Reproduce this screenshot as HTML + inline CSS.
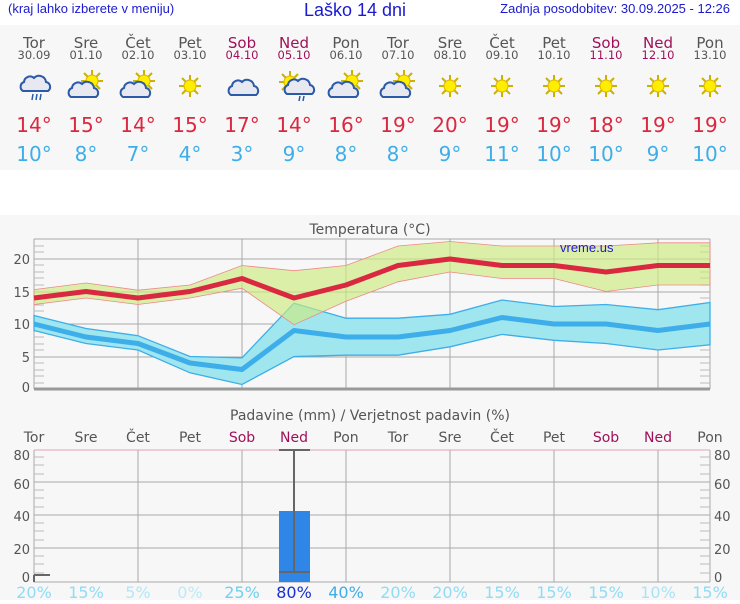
<!DOCTYPE html>
<html><head><meta charset="utf-8"><style>
body{margin:0;width:740px;height:600px;background:#fff;overflow:hidden;font-family:"DejaVu Sans","Liberation Sans",sans-serif}
</style></head><body>
<svg width="740" height="600" xmlns="http://www.w3.org/2000/svg" font-family="DejaVu Sans, Liberation Sans, sans-serif">
<defs>
<g id="sun"><g stroke="#c8b400" stroke-width="2"><line x1="-11" y1="0" x2="11" y2="0"/><line x1="0" y1="-11" x2="0" y2="11"/><line x1="-8" y1="-8" x2="8" y2="8"/><line x1="-8" y1="8" x2="8" y2="-8"/></g><circle r="6" fill="#ffee00" stroke="#e0b000"/></g>
<g id="cloud"><path d="M-13,6 a5,5 0 0 1 1,-9 a6,6 0 0 1 10,-4 a7,7 0 0 1 12,4 a5,5 0 0 1 2,9 z" fill="#e8e8f0" stroke="#2a5aa8" stroke-width="2"/></g>
</defs>
<rect x="0" y="25" width="740" height="145" fill="#f7f7f7"/>
<rect x="0" y="215" width="740" height="385" fill="#f7f7f7"/>
<text x="8" y="13" font-family="Liberation Sans" font-size="13" fill="#1a1ad0">(kraj lahko izberete v meniju)</text>
<text x="355" y="16" font-family="Liberation Sans" font-size="18" fill="#1a1ad0" text-anchor="middle">Laško 14 dni</text>
<text x="730" y="13" font-family="Liberation Sans" font-size="13" fill="#1a1ad0" text-anchor="end">Zadnja posodobitev: 30.09.2025 - 12:26</text>
<g text-anchor="middle">
<g font-size="15" fill="#555">
<text x="34" y="48">Tor</text><text x="86" y="48">Sre</text><text x="138" y="48">Čet</text><text x="190" y="48">Pet</text><text x="242" y="48" fill="#a0105a">Sob</text><text x="294" y="48" fill="#a0105a">Ned</text><text x="346" y="48">Pon</text><text x="398" y="48">Tor</text><text x="450" y="48">Sre</text><text x="502" y="48">Čet</text><text x="554" y="48">Pet</text><text x="606" y="48" fill="#a0105a">Sob</text><text x="658" y="48" fill="#a0105a">Ned</text><text x="710" y="48">Pon</text>
</g>
<g font-size="11.5" fill="#555">
<text x="34" y="59">30.09</text><text x="86" y="59">01.10</text><text x="138" y="59">02.10</text><text x="190" y="59">03.10</text><text x="242" y="59" fill="#a0105a">04.10</text><text x="294" y="59" fill="#a0105a">05.10</text><text x="346" y="59">06.10</text><text x="398" y="59">07.10</text><text x="450" y="59">08.10</text><text x="502" y="59">09.10</text><text x="554" y="59">10.10</text><text x="606" y="59" fill="#a0105a">11.10</text><text x="658" y="59" fill="#a0105a">12.10</text><text x="710" y="59">13.10</text>
</g>
<g font-size="20" fill="#d9283f">
<text x="34" y="132">14°</text><text x="86" y="132">15°</text><text x="138" y="132">14°</text><text x="190" y="132">15°</text><text x="242" y="132">17°</text><text x="294" y="132">14°</text><text x="346" y="132">16°</text><text x="398" y="132">19°</text><text x="450" y="132">20°</text><text x="502" y="132">19°</text><text x="554" y="132">19°</text><text x="606" y="132">18°</text><text x="658" y="132">19°</text><text x="710" y="132">19°</text>
</g>
<g font-size="20" fill="#3daee9">
<text x="34" y="161">10°</text><text x="86" y="161">8°</text><text x="138" y="161">7°</text><text x="190" y="161">4°</text><text x="242" y="161">3°</text><text x="294" y="161">9°</text><text x="346" y="161">8°</text><text x="398" y="161">8°</text><text x="450" y="161">9°</text><text x="502" y="161">11°</text><text x="554" y="161">10°</text><text x="606" y="161">10°</text><text x="658" y="161">9°</text><text x="710" y="161">10°</text>
</g>
</g>
<!-- icons -->
<use href="#cloud" x="36" y="85"/><g stroke="#2a5aa8" stroke-width="1.5"><line x1="33" y1="94" x2="32" y2="100"/><line x1="37" y1="94" x2="36" y2="100"/><line x1="41" y1="94" x2="40" y2="100"/></g>
<use href="#sun" x="92" y="81"/><use href="#cloud" x="84" y="91"/>
<use href="#sun" x="144" y="81"/><use href="#cloud" x="136" y="91"/>
<use href="#sun" x="190" y="86"/>
<use href="#cloud" x="244" y="89"/>
<use href="#sun" x="290" y="82"/><use href="#cloud" x="300" y="88"/><g stroke="#2a5aa8" stroke-width="1.5"><line x1="300" y1="96" x2="299" y2="101"/><line x1="304" y1="96" x2="303" y2="101"/></g>
<use href="#sun" x="352" y="81"/><use href="#cloud" x="344" y="91"/>
<use href="#sun" x="404" y="81"/><use href="#cloud" x="396" y="91"/>
<use href="#sun" x="450" y="86"/><use href="#sun" x="502" y="86"/><use href="#sun" x="554" y="86"/><use href="#sun" x="606" y="86"/><use href="#sun" x="658" y="86"/><use href="#sun" x="710" y="86"/>

<!-- temperature chart -->
<text x="370" y="234" font-size="14" fill="#555" text-anchor="middle">Temperatura (°C)</text>
<g stroke="#aaa" stroke-width="1">
<line x1="34" y1="239" x2="710" y2="239"/>
<line x1="34" y1="259" x2="710" y2="259"/><line x1="34" y1="292" x2="710" y2="292"/><line x1="34" y1="324" x2="710" y2="324"/><line x1="34" y1="357" x2="710" y2="357"/>
<line x1="34" y1="239" x2="34" y2="389"/><line x1="138" y1="239" x2="138" y2="389"/><line x1="242" y1="239" x2="242" y2="389"/><line x1="346" y1="239" x2="346" y2="389"/><line x1="450" y1="239" x2="450" y2="389"/><line x1="554" y1="239" x2="554" y2="389"/><line x1="658" y1="239" x2="658" y2="389"/><line x1="710" y1="239" x2="710" y2="389"/>
</g>
<g stroke="#bbb"><path d="M34,246h10M34,252h10M34,265h10M34,272h10M34,278h10M34,285h10M34,298h10M34,305h10M34,311h10M34,318h10M34,331h10M34,337h10M34,344h10M34,350h10M34,363h10M34,370h10M34,376h10M34,383h10"/>
<path d="M700,246h10M700,252h10M700,265h10M700,272h10M700,278h10M700,285h10M700,298h10M700,305h10M700,311h10M700,318h10M700,331h10M700,337h10M700,344h10M700,350h10M700,363h10M700,370h10M700,376h10M700,383h10"/></g>
<line x1="34" y1="389" x2="710" y2="389" stroke="#999" stroke-width="3"/>
<g font-size="13" fill="#555" text-anchor="end"><text x="30" y="264">20</text><text x="30" y="297">15</text><text x="30" y="329">10</text><text x="30" y="362">5</text><text x="30" y="392">0</text></g>
<!-- blue band -->
<polygon fill="#9fe6ef" stroke="#3daee9" stroke-width="1.3" points="34,315.5 86,328.5 138,335.7 190,356.5 242,357.8 294,303.2 346,318.2 398,318.2 450,314.3 502,300 554,306.5 606,304.5 658,309.7 710,302.5 710,344.8 658,350 606,343.5 554,340.3 502,334.4 450,346.8 398,355.2 346,355.2 294,356.5 242,384.5 190,372.8 138,350 86,343.5 34,330.5"/>
<!-- red band -->
<polygon fill="#cdeb80" fill-opacity="0.65" stroke="#e88" stroke-width="0.8" points="34,289.6 86,283 138,290.2 190,285 242,265.5 294,270.7 346,265.5 398,246 450,241.5 502,246 554,246 606,246 658,242.8 710,242.8 710,285 658,285 606,291.5 554,278.5 502,278.5 450,272 398,281.8 346,301.2 294,324.7 242,288.2 190,298 138,304.5 86,298 34,304.5"/>
<polyline fill="none" stroke="#d9283f" stroke-width="5" stroke-linejoin="round" points="34,298 86,291.5 138,298 190,291.5 242,278.5 294,298 346,285 398,265.5 450,259 502,265.5 554,265.5 606,272 658,265.5 710,265.5"/>
<polyline fill="none" stroke="#3daee9" stroke-width="5" stroke-linejoin="round" points="34,324 86,337 138,343.5 190,363 242,369.5 294,330.5 346,337 398,337 450,330.5 502,317.5 554,324 606,324 658,330.5 710,324"/>
<text x="560" y="252" font-family="Liberation Sans" font-size="13" fill="#1a1ad0">vreme.us</text>

<!-- precipitation chart -->
<text x="370" y="420" font-size="14" fill="#555" text-anchor="middle">Padavine (mm) / Verjetnost padavin (%)</text>
<g font-size="14" fill="#555" text-anchor="middle">
<text x="34" y="442">Tor</text><text x="86" y="442">Sre</text><text x="138" y="442">Čet</text><text x="190" y="442">Pet</text><text x="242" y="442" fill="#a0105a">Sob</text><text x="294" y="442" fill="#a0105a">Ned</text><text x="346" y="442">Pon</text><text x="398" y="442">Tor</text><text x="450" y="442">Sre</text><text x="502" y="442">Čet</text><text x="554" y="442">Pet</text><text x="606" y="442" fill="#a0105a">Sob</text><text x="658" y="442" fill="#a0105a">Ned</text><text x="710" y="442">Pon</text>
</g>
<g stroke="#aaa" stroke-width="1">
<line x1="34" y1="482" x2="710" y2="482"/><line x1="34" y1="515" x2="710" y2="515"/><line x1="34" y1="548" x2="710" y2="548"/>
<line x1="138" y1="450" x2="138" y2="582"/><line x1="242" y1="450" x2="242" y2="582"/><line x1="346" y1="450" x2="346" y2="582"/><line x1="450" y1="450" x2="450" y2="582"/><line x1="554" y1="450" x2="554" y2="582"/><line x1="658" y1="450" x2="658" y2="582"/>
<line x1="34" y1="450" x2="34" y2="582"/><line x1="710" y1="450" x2="710" y2="582"/>
<line x1="34" y1="582" x2="710" y2="582"/>
</g>
<line x1="34" y1="450" x2="710" y2="450" stroke="#e0a0b8" stroke-width="1"/>
<g stroke="#bbb"><path d="M34,457h10M34,465h10M34,474h10M34,490h10M34,498h10M34,507h10M34,523h10M34,531h10M34,540h10M34,556h10M34,564h10M34,573h10"/>
<path d="M700,457h10M700,465h10M700,474h10M700,490h10M700,498h10M700,507h10M700,523h10M700,531h10M700,540h10M700,556h10M700,564h10M700,573h10"/></g>
<g font-size="13" fill="#555"><text x="30" y="460" text-anchor="end">80</text><text x="30" y="489" text-anchor="end">60</text><text x="30" y="521" text-anchor="end">40</text><text x="30" y="554" text-anchor="end">20</text><text x="30" y="582" text-anchor="end">0</text>
<text x="714" y="460">80</text><text x="714" y="489">60</text><text x="714" y="521">40</text><text x="714" y="554">20</text><text x="714" y="582">0</text></g>
<rect x="279" y="511" width="31" height="71" fill="#2f86e6"/>
<g stroke="#666" stroke-width="2"><line x1="294" y1="450" x2="294" y2="572"/><line x1="279" y1="450" x2="310" y2="450"/><line x1="279" y1="572" x2="310" y2="572"/><line x1="34" y1="575" x2="50" y2="575"/><line x1="34" y1="575" x2="34" y2="582"/></g>
<g font-size="16" text-anchor="middle">
<text x="34" y="598" fill="#8fdcf5">20%</text><text x="86" y="598" fill="#8fdcf5">15%</text><text x="138" y="598" fill="#b0e8f8">5%</text><text x="190" y="598" fill="#b8ecf8">0%</text><text x="242" y="598" fill="#6fd0f0">25%</text><text x="294" y="598" fill="#1a2fd0">80%</text><text x="346" y="598" fill="#3daee9">40%</text><text x="398" y="598" fill="#8fdcf5">20%</text><text x="450" y="598" fill="#8fdcf5">20%</text><text x="502" y="598" fill="#8fdcf5">15%</text><text x="554" y="598" fill="#8fdcf5">15%</text><text x="606" y="598" fill="#8fdcf5">15%</text><text x="658" y="598" fill="#a8e4f5">10%</text><text x="710" y="598" fill="#8fdcf5">15%</text>
</g>
</svg>
</body></html>
